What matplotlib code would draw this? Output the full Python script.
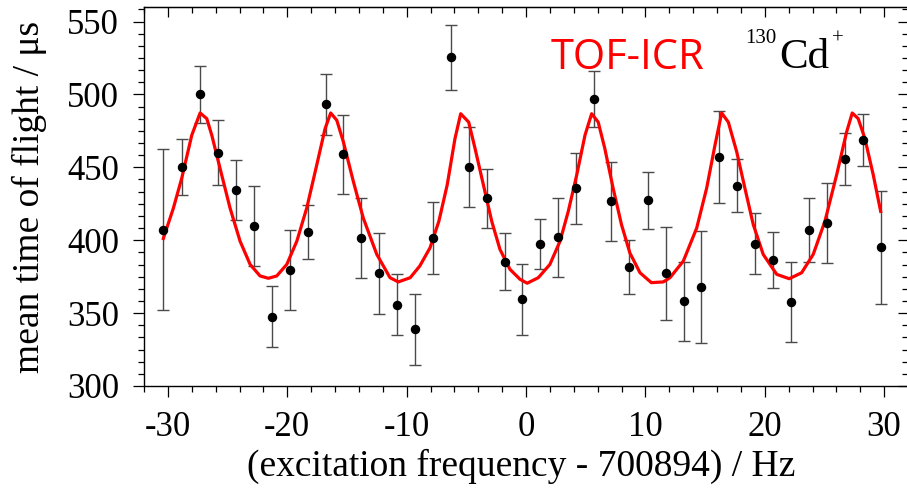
import matplotlib
matplotlib.use("Agg")
import matplotlib.pyplot as plt
from matplotlib.ticker import MultipleLocator, AutoMinorLocator

# measured points (frequency offset in Hz, mean TOF in us, error)
freq = [-30.4, -28.8, -27.3, -25.8, -24.3, -22.8, -21.3, -19.8, -18.3, -16.75,
        -15.3, -13.85, -12.35, -10.8, -9.3, -7.8, -6.3, -4.8, -3.3, -1.8,
        -0.3, 1.2, 2.7, 4.2, 5.7, 7.15, 8.65, 10.2, 11.7, 13.2,
        14.7, 16.2, 17.7, 19.15, 20.7, 22.2, 23.7, 25.2, 26.7, 28.2, 29.7]
tof = [407.3, 450, 500, 460, 434.3, 409.5, 347.5, 379.8, 405.5, 493.2,
       459, 401.6, 377.5, 355.9, 338.9, 401.6, 525.4, 450.4, 428.8, 385.2,
       359.6, 397.5, 402, 435.6, 497, 426.6, 381.6, 427.3, 377.3, 358,
       368, 457.3, 437.5, 397.7, 386.6, 357.7, 407, 411.8, 455.9, 468.6, 395.2]
tof_err = [55, 19.3, 19.4, 22.2, 20.6, 27.4, 20.9, 27.5, 18.5, 20.8,
           27, 27.2, 27.8, 20.9, 24.2, 24.5, 22.2, 27.3, 20.4, 19.5,
           24.4, 17.3, 27.2, 24.2, 19.3, 27.3, 18.4, 19.4, 31.9, 27.2,
           38.6, 31.5, 18.4, 20.7, 19.3, 27.2, 22.2, 27.2, 18, 18, 38.9]

# fit curve
fit_x = [-30.38, -29.54, -28.84, -28.0, -27.3, -26.74, -26.32, -25.63, -24.79, -23.95,
         -23.11, -22.28, -21.58, -20.88, -20.04, -19.2, -18.37, -17.53, -16.83, -16.36,
         -15.85, -15.3, -14.46, -13.63, -12.5, -11.39, -10.7, -9.7, -8.9, -8.04,
         -7.3, -6.6, -5.95, -5.47, -4.8, -4.27, -3.57, -2.87, -2.18, -1.34,
         -0.5, 0.1, 1.03, 2.0, 2.85, 3.54, 4.25, 4.94, 5.5, 6.05,
         6.6, 7.3, 8.0, 8.7, 9.55, 10.5, 11.5, 12.06, 13.18, 14.3,
         15.13, 15.83, 16.39, 16.95, 17.65, 18.34, 19.04, 19.87, 21.0, 22.05,
         23.09, 24.06, 25.04, 26.02, 26.86, 27.33, 27.83, 28.39, 29.09, 29.71]
fit_y = [401.2, 422, 442.5, 472, 487.3, 483.4, 472, 449.3, 422, 399.3,
         383.4, 375.5, 373.9, 375.5, 383.4, 399.3, 422, 451.6, 476.6, 487.3,
         482.3, 467.5, 440.2, 415.2, 390.3, 374.3, 371.4, 374.3, 382.3, 394.8,
         413, 438, 469.7, 486.8, 481, 463, 438, 413, 393.7, 380,
         373.2, 370.5, 374.3, 383.4, 399.3, 419.8, 444.8, 472, 486.8, 481,
         463, 435.6, 410.7, 391.3, 377.7, 370.9, 371.4, 374.3, 385.7, 408.4,
         435.6, 465.2, 487.3, 481, 460.7, 435.6, 410.7, 390.3, 376.6, 373.6,
         377.7, 390.3, 413, 444.8, 474.3, 487.3, 483.4, 469.7, 444.8, 419.8]

plt.rcParams["font.family"] = "Liberation Serif"
plt.rcParams["axes.unicode_minus"] = False

fig = plt.figure(figsize=(9.07, 4.91), dpi=100)
ax = fig.add_axes([144 / 907, 1 - 386 / 491, 764 / 907, 379 / 491])

ax.errorbar(freq, tof, yerr=tof_err, fmt="none", ecolor="#4a4a4a",
            elinewidth=1.0, capsize=4, capthick=1.0, zorder=1)
ax.plot(fit_x, fit_y, color="red", lw=2.3, zorder=2)
ax.plot(freq, tof, "o", color="black", ms=5.8, zorder=3)

ax.set_xlim(-32, 32)
ax.set_ylim(300, 560)
ax.xaxis.set_major_locator(MultipleLocator(10))
ax.xaxis.set_minor_locator(AutoMinorLocator(5))
ax.yaxis.set_major_locator(MultipleLocator(50))
ax.yaxis.set_minor_locator(AutoMinorLocator(6))
ax.tick_params(which="both", direction="out", labelsize=25, width=0.9,
               right=False, top=False)
ax.tick_params(which="major", length=8, pad=10)
ax.tick_params(which="minor", length=4.5)
for s in ax.spines.values():
    s.set_linewidth(1.0)

top = ax.secondary_xaxis("top")
top.xaxis.set_major_locator(MultipleLocator(10))
top.xaxis.set_minor_locator(AutoMinorLocator(5))
top.tick_params(which="both", direction="in", labeltop=False, width=0.9)
top.tick_params(which="major", length=7)
top.tick_params(which="minor", length=4)
right = ax.secondary_yaxis("right")
right.yaxis.set_major_locator(MultipleLocator(50))
right.yaxis.set_minor_locator(AutoMinorLocator(6))
right.tick_params(which="both", direction="in", labelright=False, width=0.9)
right.tick_params(which="major", length=7.5)
right.tick_params(which="minor", length=4)

ax.set_xlabel("(excitation frequency - 700894) / Hz", fontsize=27)
ax.set_ylabel("mean time of flight / \u03bcs", fontsize=27)
ax.xaxis.set_label_coords(0.4935, -0.166)
ax.yaxis.set_label_coords(-0.127, 0.5)

fig.text(551 / 907, 1 - 69 / 491, "TOF-ICR", color="red", fontsize=30,
         family="Open Sans", va="baseline")
fig.text(745 / 907, 1 - 43 / 491, "130", fontsize=15, va="baseline")
fig.text(779 / 907, 1 - 68 / 491, "Cd", fontsize=31, va="baseline")
fig.text(832 / 907, 1 - 44 / 491, "+", fontsize=15, va="baseline")

fig.savefig("out.png", dpi=100)
